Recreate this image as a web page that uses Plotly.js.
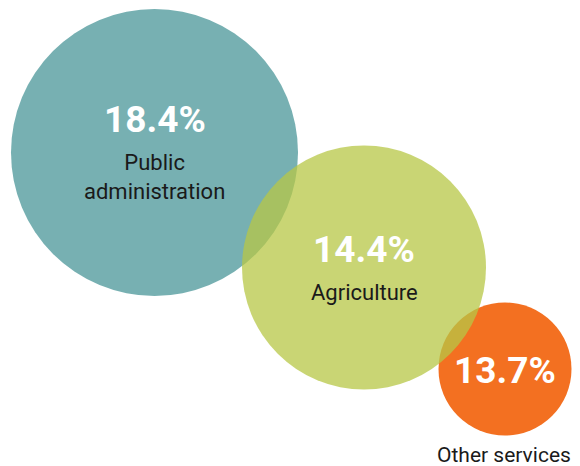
<!DOCTYPE html>
<html>
<head>
<meta charset="utf-8">
<script src="https://cdn.plot.ly/plotly-3.0.1.min.js"></script>
<style>html,body{margin:0;padding:0;background:#fff;}#chart{width:580px;height:466px;}</style>
</head>
<body>
<div id="chart"></div>
<script>
// Data
var categories = ["Public administration", "Agriculture", "Other services"];
var categoryLabels = ["Public<br>administration", "Agriculture", "Other services"];
var values = [18.4, 14.4, 13.7];

// Layout (pixel-based canvas)
var centerX = [154.5, 364, 505];
var centerY = [152.5, 267.5, 369];
var diameters = [287, 244, 133];
var colors = ["#77b0b2", "#b7c745", "#f37021"];
var opacities = [1, 0.75, 1];
var pctShift = [33, 18, -1];
var labelShift = [-24, -25, -86];
var labelXShift = [0, 0, -1];
var labelSizes = [22, 22, 21];
var drawOrder = [0, 2, 1];

var trace = {
  type: "scatter",
  mode: "markers",
  x: drawOrder.map(function(i){ return centerX[i]; }),
  y: drawOrder.map(function(i){ return centerY[i]; }),
  text: drawOrder.map(function(i){ return categories[i]; }),
  hoverinfo: "text",
  marker: {
    size: drawOrder.map(function(i){ return diameters[i]; }),
    sizemode: "diameter",
    color: drawOrder.map(function(i){ return colors[i]; }),
    opacity: drawOrder.map(function(i){ return opacities[i]; }),
    line: {width: 0}
  },
  showlegend: false
};

var annotations = [];
for (var i = 0; i < categories.length; i++) {
  annotations.push({
    x: centerX[i], y: centerY[i], xref: "x", yref: "y",
    text: values[i].toFixed(1) + "%",
    showarrow: false, yshift: pctShift[i], borderpad: 0,
    font: {family: "Roboto, 'DejaVu Sans', sans-serif", size: 37, color: "#ffffff", weight: 700}
  });
  annotations.push({
    x: centerX[i], y: centerY[i], xref: "x", yref: "y",
    text: categoryLabels[i],
    showarrow: false, yshift: labelShift[i], xshift: labelXShift[i], borderpad: 0,
    font: {family: "Roboto, 'DejaVu Sans', sans-serif", size: labelSizes[i], color: "#1a1a1a"}
  });
}

var layout = {
  width: 580, height: 466,
  margin: {l: 0, r: 0, t: 0, b: 0, pad: 0},
  paper_bgcolor: "#ffffff", plot_bgcolor: "#ffffff",
  xaxis: {range: [0, 580], visible: false, fixedrange: true},
  yaxis: {range: [466, 0], visible: false, fixedrange: true},
  annotations: annotations,
  showlegend: false
};

Plotly.newPlot("chart", [trace], layout, {displayModeBar: false, staticPlot: true});
</script>
</body>
</html>
